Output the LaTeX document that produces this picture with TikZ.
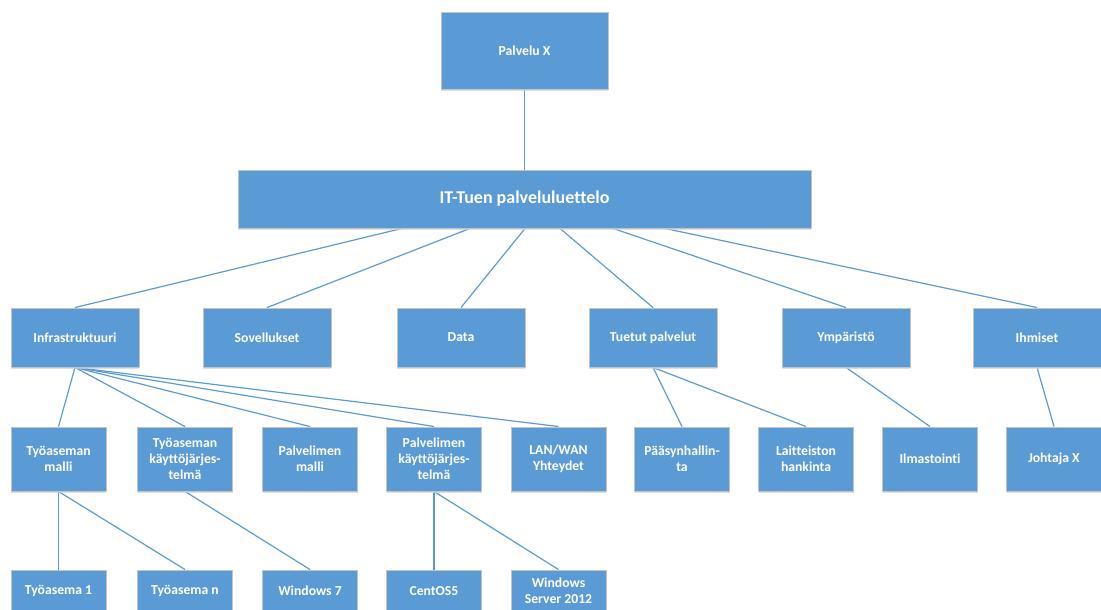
\documentclass[tikz,border=0pt]{standalone}
\usepackage{fontspec}
\setmainfont{Carlito}[Ligatures=NoCommon]
\usetikzlibrary{shadows,backgrounds}
\definecolor{boxblue}{HTML}{5B9BD5}
\definecolor{boxedge}{HTML}{C4C4C4}
\definecolor{linkblue}{HTML}{5B9BD5}
\begin{document}
\begin{tikzpicture}[x=1pt,y=-1pt,
  box/.style={rectangle, draw=boxedge, line width=0.9pt, fill=boxblue,
    text=white, font=\bfseries\fontsize{13.7}{16}\selectfont, align=center,
    inner sep=2pt,
    drop shadow={shadow xshift=0pt, shadow yshift=-1.6pt, fill=gray!35, opacity=0.7}},
  topbox/.style={box, minimum width=167pt, minimum height=77pt},
  listbox/.style={box, minimum width=573pt, minimum height=58pt,
    font=\bfseries\fontsize{18}{21}\selectfont},
  catbox/.style={box, minimum width=128pt, minimum height=59pt},
  itembox/.style={box, minimum width=95pt, minimum height=64pt},
  leafbox/.style={box, minimum width=95pt, minimum height=42pt},
  link/.style={draw=linkblue, line width=1.2pt}]
\useasboundingbox (0,0) rectangle (1101,610);
\clip (0,0) rectangle (1101,610);

% top level
\node[topbox] (px) at (524.5,50.5) {Palvelu X};
\node[listbox] (it) at (524.5,199) {IT-Tuen palveluluettelo};

% categories
\node[catbox] (infra) at (75,337.5) {Infrastruktuuri};
\node[catbox] (sov)   at (267,337.5) {Sovellukset};
\node[catbox] (data)  at (461,337.5) {Data};
\node[catbox] (tuet)  at (653,337.5) {Tuetut palvelut};
\node[catbox] (ymp)   at (846,337.5) {Ympäristö};
\node[catbox] (ihm)   at (1037,337.5) {Ihmiset};

% items
\node[itembox] (tamalli) at (58.5,459) {Työaseman\\malli};
\node[itembox] (takj)    at (185,459) {Työaseman\\käyttöjärjes-\\telmä};
\node[itembox] (pmalli)  at (310,459) {Palvelimen\\malli};
\node[itembox] (pkj)     at (434,459) {Palvelimen\\käyttöjärjes-\\telmä};
\node[itembox] (lan)     at (558.5,459) {LAN/WAN\\Yhteydet};
\node[itembox] (paasy)   at (682,459) {Pääsynhallin-\\ta};
\node[itembox] (laitt)   at (806,459) {Laitteiston\\hankinta};
\node[itembox] (ilma)    at (930,459) {Ilmastointi};
\node[itembox] (johtaja) at (1054,459) {Johtaja X};

% leaves
\node[leafbox] (ta1)   at (58.5,591) {Työasema 1};
\node[leafbox] (tan)   at (185,591) {Työasema n};
\node[leafbox] (win7)  at (310,591) {Windows 7};
\node[leafbox] (cent)  at (434,591) {CentOS5};
\node[leafbox] (ws)    at (558.5,591) {Windows\\Server 2012};

% connectors
\begin{pgfonlayer}{background}
\draw[link] (px.south) -- (it.north);
\draw[link] ([xshift=-122.5pt]it.south) -- (infra.north);
\draw[link] ([xshift=-54.5pt]it.south) -- (sov.north);
\draw[link] ([xshift=0.5pt]it.south) -- (data.north);
\draw[link] ([xshift=35.5pt]it.south) -- (tuet.north);
\draw[link] ([xshift=88.5pt]it.south) -- (ymp.north);
\draw[link] ([xshift=140.5pt]it.south) -- (ihm.north);

\draw[link] (infra.south) -- (tamalli.north);
\draw[link] (infra.south) -- (takj.north);
\draw[link] (infra.south) -- (pmalli.north);
\draw[link] (infra.south) -- (pkj.north);
\draw[link] (infra.south) -- (lan.north);
\draw[link] (tuet.south) -- (paasy.north);
\draw[link] (tuet.south) -- (laitt.north);
\draw[link] (ymp.south) -- (ilma.north);
\draw[link] (ihm.south) -- (johtaja.north);

\draw[link] (tamalli.south) -- (ta1.north);
\draw[link] (tamalli.south) -- (tan.north);
\draw[link] (takj.south) -- (win7.north);
\draw[link] (pkj.south) -- (cent.north);
\draw[link] (pkj.south) -- (ws.north);
\end{pgfonlayer}
\end{tikzpicture}
\end{document}
